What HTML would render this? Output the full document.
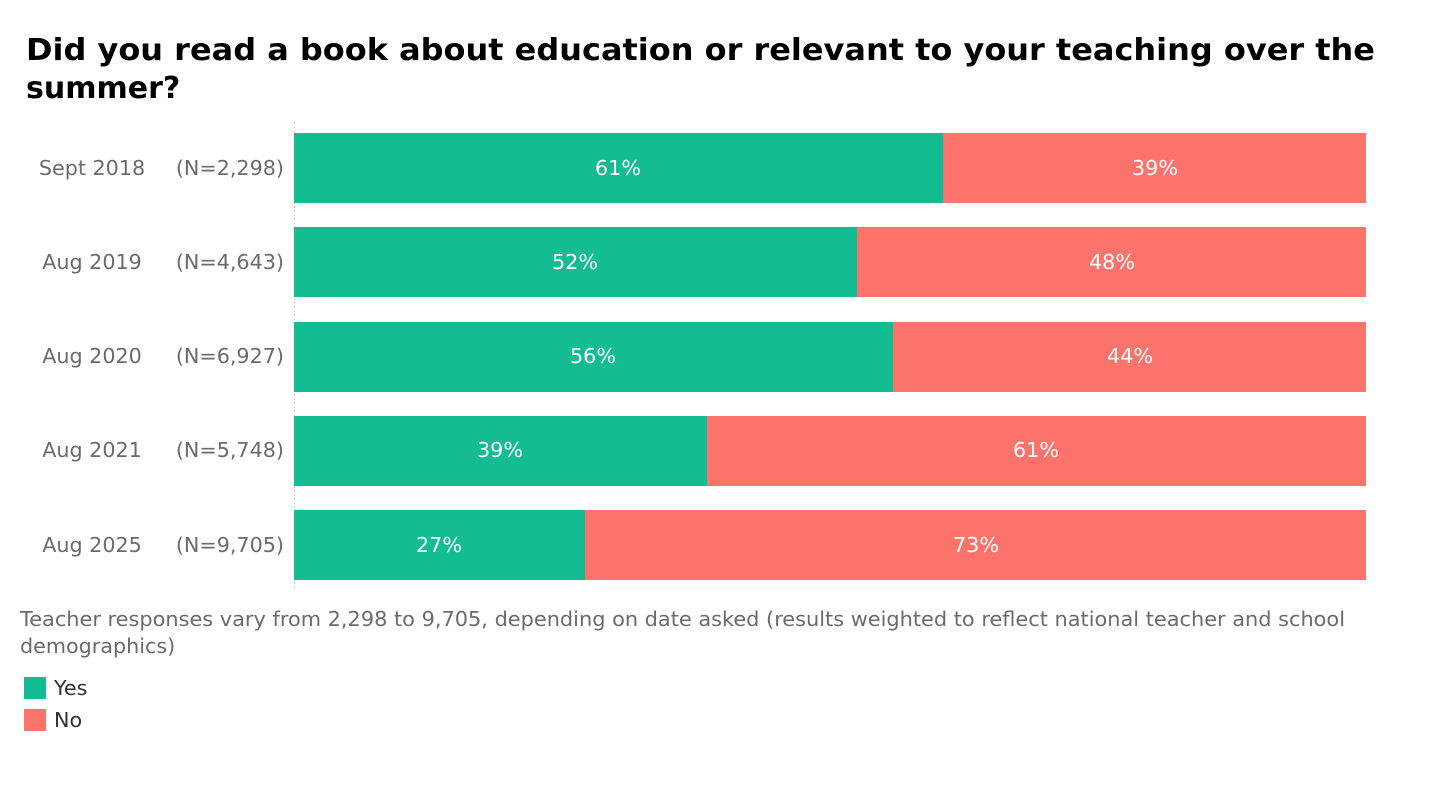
<!DOCTYPE html>
<html><head><meta charset="utf-8"><style>
html,body{margin:0;padding:0;background:#fff;}
svg{display:block;font-family:"DejaVu Sans","Liberation Sans",sans-serif;}
</style></head><body>
<svg width="1440" height="800" viewBox="0 0 1440 800" xmlns="http://www.w3.org/2000/svg">
<rect width="1440" height="800" fill="#fff"/>
<text x="26" y="60" font-size="30" font-weight="bold" fill="#000" textLength="1349" lengthAdjust="spacingAndGlyphs">Did you read a book about education or relevant to your teaching over the</text>
<text x="26" y="98" font-size="30" font-weight="bold" fill="#000">summer?</text>
<line x1="294.5" y1="122" x2="294.5" y2="590" stroke="#ccc" stroke-dasharray="2,2"/>
<g font-size="20.7" fill="#6b6b6b">
<text x="92" y="175" text-anchor="middle">Sept 2018</text><text x="284" y="175" text-anchor="end">(N=2,298)</text>
<text x="92" y="269" text-anchor="middle">Aug 2019</text><text x="284" y="269" text-anchor="end">(N=4,643)</text>
<text x="92" y="363" text-anchor="middle">Aug 2020</text><text x="284" y="363" text-anchor="end">(N=6,927)</text>
<text x="92" y="457" text-anchor="middle">Aug 2021</text><text x="284" y="457" text-anchor="end">(N=5,748)</text>
<text x="92" y="552" text-anchor="middle">Aug 2025</text><text x="284" y="552" text-anchor="end">(N=9,705)</text>
</g>
<g>
<rect x="294" y="133" width="649" height="70" fill="#13BD91"/><rect x="943" y="133" width="423" height="70" fill="#FC736C"/>
<rect x="294" y="227" width="563" height="70" fill="#13BD91"/><rect x="857" y="227" width="509" height="70" fill="#FC736C"/>
<rect x="294" y="322" width="599" height="70" fill="#13BD91"/><rect x="893" y="322" width="473" height="70" fill="#FC736C"/>
<rect x="294" y="416" width="413" height="70" fill="#13BD91"/><rect x="707" y="416" width="659" height="70" fill="#FC736C"/>
<rect x="294" y="510" width="291" height="70" fill="#13BD91"/><rect x="585" y="510" width="781" height="70" fill="#FC736C"/>
</g>
<g font-size="20.7" fill="#fff" text-anchor="middle">
<text x="618" y="175">61%</text><text x="1155" y="175">39%</text>
<text x="575" y="269">52%</text><text x="1112" y="269">48%</text>
<text x="593" y="363">56%</text><text x="1130" y="363">44%</text>
<text x="500" y="457">39%</text><text x="1036" y="457">61%</text>
<text x="439" y="552">27%</text><text x="976" y="552">73%</text>
</g>
<g font-size="20.7" fill="#6b6b6b">
<text x="20" y="626" textLength="1325" lengthAdjust="spacingAndGlyphs">Teacher responses vary from 2,298 to 9,705, depending on date asked (results weighted to reflect national teacher and school</text>
<text x="20" y="653">demographics)</text>
</g>
<rect x="24" y="677" width="22" height="22" fill="#13BD91"/>
<rect x="24" y="709" width="22" height="22" fill="#FC736C"/>
<g font-size="20.7" fill="#333">
<text x="54" y="695">Yes</text>
<text x="54" y="727">No</text>
</g>
</svg>
</body></html>
